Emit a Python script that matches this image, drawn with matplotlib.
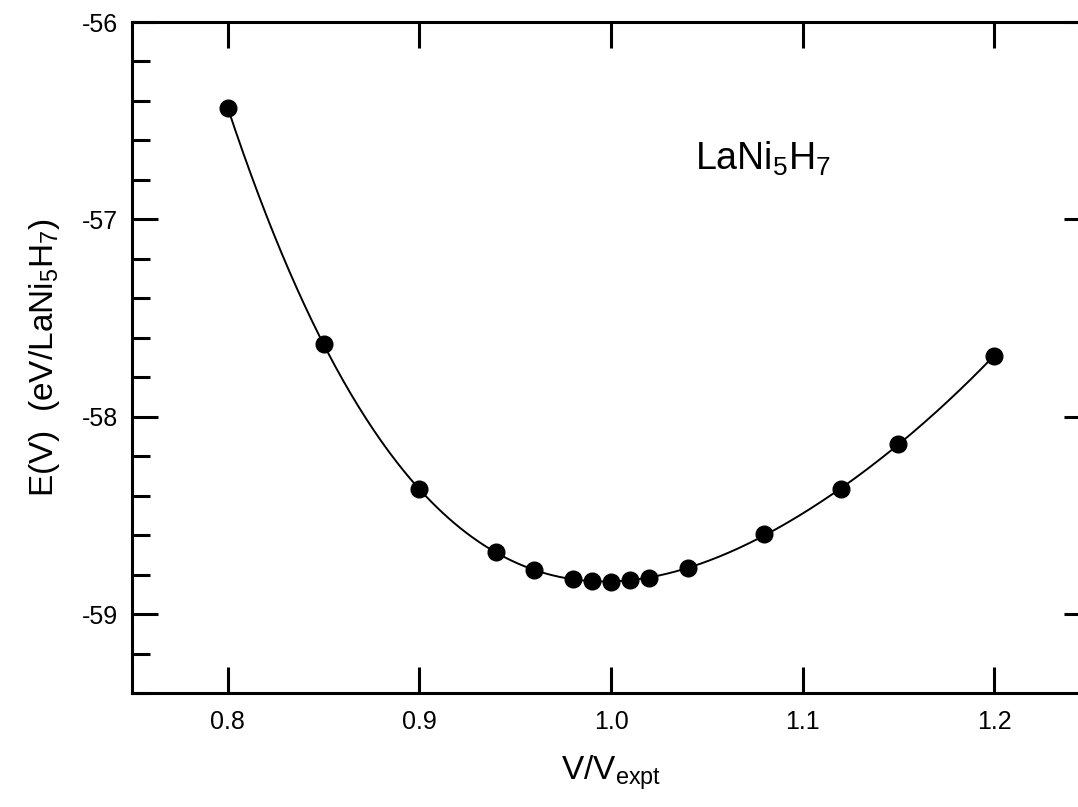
import matplotlib
matplotlib.use("Agg")
import matplotlib.pyplot as plt
import numpy as np
from matplotlib.ticker import MultipleLocator

plt.rcParams['font.family'] = ['Liberation Sans', 'DejaVu Sans']
plt.rcParams['mathtext.fontset'] = 'custom'
plt.rcParams['mathtext.rm'] = 'Liberation Sans'
plt.rcParams['mathtext.it'] = 'Liberation Sans'
plt.rcParams['axes.unicode_minus'] = False

# volume ratio and energy
v_ratio = np.array([0.80, 0.85, 0.90, 0.94, 0.96, 0.98, 0.99, 1.00, 1.01, 1.02,
                    1.04, 1.08, 1.12, 1.15, 1.20])
energy = np.array([-56.435, -57.634, -58.367, -58.686, -58.777, -58.822, -58.833,
                   -58.838, -58.828, -58.817, -58.767, -58.595, -58.367, -58.14, -57.69])

xticks = [0.8, 0.9, 1.0, 1.1, 1.2]
xticklabels = ['0.8', '0.9', '1.0', '1.1', '1.2']
yticks = [-56, -57, -58, -59]

# smooth fit curve through the points
coef = np.polyfit(v_ratio, energy, 5)
xs = np.linspace(v_ratio[0], v_ratio[-1], 400)
ys = np.polyval(coef, xs)

fig = plt.figure(figsize=(10.78, 8.07), dpi=100)
ax = fig.add_axes([132 / 1078, 1 - 693 / 807, 958 / 1078, (693 - 22) / 807])

ax.plot(xs, ys, color='black', lw=1.4, zorder=2)
ax.plot(v_ratio, energy, 'o', color='black', ms=12, zorder=3)

ax.set_xlim(0.75, 1.25)
ax.set_ylim(-59.4, -56)
ax.set_xticks(xticks)
ax.set_xticklabels(xticklabels)
ax.set_yticks(yticks)
ax.yaxis.set_minor_locator(MultipleLocator(0.2))

ax.tick_params(which='major', direction='in', length=19, width=2.2,
               top=True, right=True, labelsize=18)
ax.tick_params(axis='x', which='major', pad=12)
ax.tick_params(axis='y', which='major', pad=10)
ax.tick_params(which='minor', direction='in', length=13, width=2.2,
               left=True, right=False)
for s in ax.spines.values():
    s.set_linewidth(2.2)

ax.set_xlabel(r'$\mathrm{V/V_{expt}}$', fontsize=24, labelpad=14)
ax.set_ylabel(r'$\mathrm{E(V)\ \ (eV/LaNi_5H_7)}$', fontsize=24, labelpad=14)
ax.text(1.0437, -56.75, r'$\mathrm{LaNi_5H_7}$', fontsize=27, va='baseline')

fig.savefig('out.png', dpi=100)
